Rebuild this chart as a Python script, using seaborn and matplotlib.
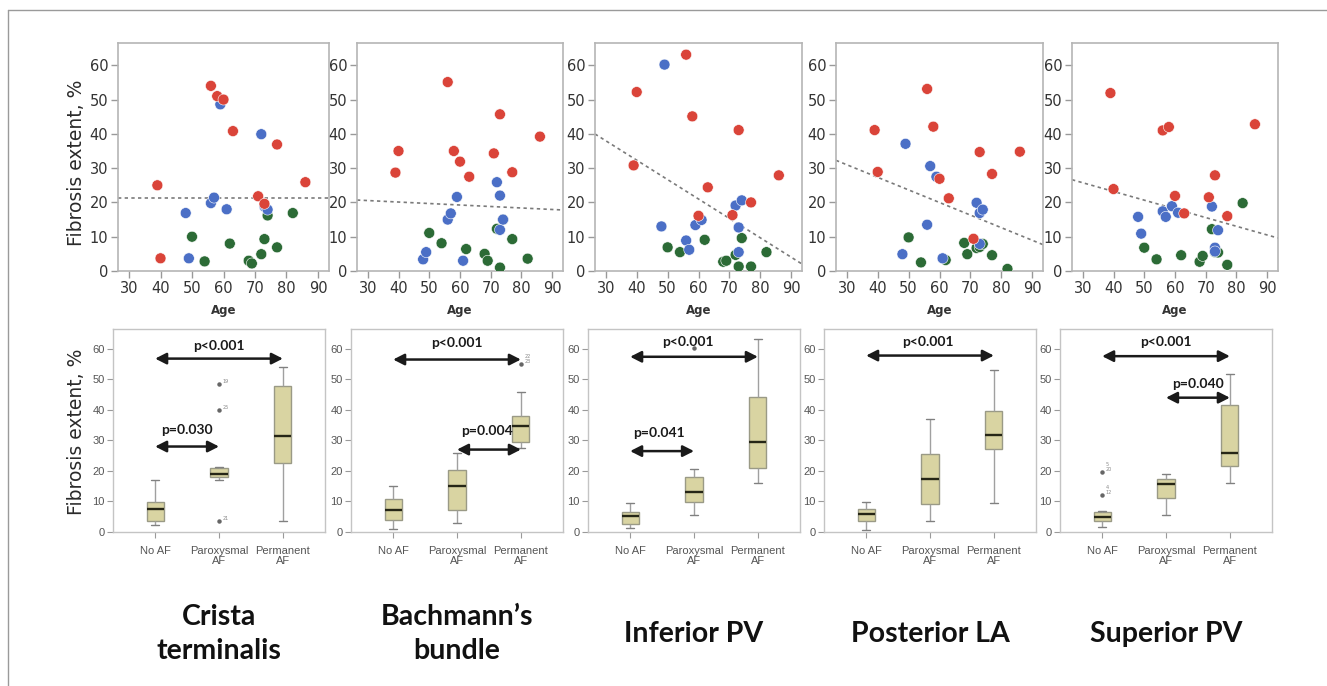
import numpy as np
import pandas as pd
import matplotlib
matplotlib.use("Agg")
import matplotlib.pyplot as plt
import seaborn as sns
from matplotlib.lines import Line2D

# ---------------- data ----------------
regions = ["Crista\nterminalis", "Bachmann\u2019s\nbundle", "Inferior PV", "Posterior LA", "Superior PV"]
groups = ["No AF", "Paroxysmal AF", "Permanent AF"]
group_ticklabels = ["No AF", "Paroxysmal\nAF", "Permanent\nAF"]

age_no_af = [50, 54, 62, 68, 69, 72, 73, 74, 77, 82]
age_parox = [48, 49, 56, 57, 59, 61, 72, 73, 73, 74]
age_perm = [39, 40, 56, 58, 60, 63, 71, 73, 77, 86]

ct_no_af = [10, 2.8, 8, 3, 2.2, 4.9, 9.3, 16.2, 6.9, 16.9]
ct_parox = [16.9, 3.7, 19.8, 21.4, 48.6, 18, 39.9, 18.8, 19.2, 17.9]
ct_perm = [25, 3.7, 54, 51, 50, 40.8, 21.8, 19.6, 36.9, 25.9]

bb_no_af = [11.1, 8.1, 6.4, 5.0, 3.0, 12.3, 1.0, 15, 9.3, 3.6]
bb_parox = [3.4, 5.5, 15, 16.8, 21.6, 3.0, 25.9, 22, 12, 15]
bb_perm = [28.7, 35, 55.1, 35, 31.9, 27.5, 34.3, 45.7, 28.8, 39.2]

ipv_no_af = [6.9, 5.5, 9.1, 2.7, 3.0, 4.7, 1.3, 9.6, 1.3, 5.5]
ipv_parox = [13, 60.2, 8.9, 6.2, 13.4, 14.9, 19.1, 12.7, 5.5, 20.6]
ipv_perm = [30.8, 52.2, 63.1, 45.1, 16.1, 24.4, 16.3, 41.1, 20, 27.9]

pla_no_af = [9.8, 2.5, 3.2, 8.2, 4.9, 6.7, 7.0, 7.9, 4.6, 0.6]
pla_parox = [4.9, 37.1, 13.5, 30.6, 27.5, 3.7, 19.9, 16.9, 7.9, 17.9]
pla_perm = [41.1, 28.9, 53.1, 42.1, 26.9, 21.2, 9.4, 34.7, 28.3, 34.8]

spv_no_af = [6.8, 3.4, 4.6, 2.7, 4.4, 12.2, 5.5, 5.4, 1.8, 19.8]
spv_parox = [15.8, 10.9, 17.4, 15.8, 18.9, 17, 18.8, 6.8, 5.7, 11.9]
spv_perm = [51.9, 23.9, 41, 42, 21.9, 16.8, 21.5, 27.9, 16, 42.8]

no_af_sets = [ct_no_af, bb_no_af, ipv_no_af, pla_no_af, spv_no_af]
parox_sets = [ct_parox, bb_parox, ipv_parox, pla_parox, spv_parox]
perm_sets = [ct_perm, bb_perm, ipv_perm, pla_perm, spv_perm]

# linear fit (all patients)
fit_intercept = [21.2, 21.85, 54.96, 42.0, 33.36]
fit_slope = [0.0, -0.0434, -0.566, -0.367, -0.254]

# comparisons: (from group, to group, arrow level, label level, label)
comparisons = [
    [(0, 2, 56.8, 60.8, "p<0.001"), (0, 1, 28.0, 33.4, "p=0.030")],
    [(0, 2, 56.5, 61.8, "p<0.001"), (1, 2, 27.0, 33.0, "p=0.004")],
    [(0, 2, 57.4, 62.2, "p<0.001"), (0, 1, 26.5, 32.5, "p=0.041")],
    [(0, 2, 57.8, 62.4, "p<0.001")],
    [(0, 2, 57.6, 62.4, "p<0.001"), (1, 2, 44.0, 48.6, "p=0.040")],
]
label_x = [[1.0, 0.5], [1.0, 1.47], [0.9, 0.45], [0.97], [1.0, 1.5]]

# SPSS case numbers next to outliers: (panel, group, value, text)
outlier_notes = [(0, 1, 48.6, "19"), (0, 1, 39.9, "25"), (0, 1, 3.7, "21"),
                 (1, 2, 55.1, "22\n23"), (4, 0, 19.8, "5\n20"), (4, 0, 12.2, "4\n12")]

# ---------------- style ----------------
sns.set_theme(style="white")
plt.rcParams["font.family"] = ["DejaVu Sans"]

palette = {"No AF": "#2c6b36", "Paroxysmal AF": "#4b6fc6", "Permanent AF": "#da4439"}
box_fill = "#d9d4a2"
title_font = ["Lato", "DejaVu Sans"]
narrow_font = ["Liberation Sans Narrow", "Liberation Sans", "DejaVu Sans"]

W, H = 1327, 686
fig = plt.figure(figsize=(W / 100, H / 100), dpi=100)
fig.patch.set_facecolor("white")

top_lefts = [118, 357, 595, 836, 1072]
top_widths = [211, 206, 207, 207, 206]
top_y0, top_y1 = 43, 271
bot_lefts = [113, 351, 588, 824, 1060]
bot_width = 212
bot_y0, bot_y1 = 329, 532


def fig_rect(left, top, width, height):
    return [left / W, 1 - (top + height) / H, width / W, height / H]


for i in range(5):
    # ---------- scatter ----------
    ax = fig.add_axes(fig_rect(top_lefts[i], top_y0, top_widths[i], top_y1 - top_y0))
    df = pd.DataFrame({
        "Age": age_no_af + age_parox + age_perm,
        "Fibrosis": no_af_sets[i] + parox_sets[i] + perm_sets[i],
        "Group": [groups[0]] * len(age_no_af) + [groups[1]] * len(age_parox) + [groups[2]] * len(age_perm),
    })
    sns.scatterplot(data=df, x="Age", y="Fibrosis", hue="Group", palette=palette,
                    s=62, linewidth=0.4, edgecolor="white", legend=False, ax=ax, zorder=3)
    ax.axline((0, fit_intercept[i]), slope=fit_slope[i], color="#7a7a7a", lw=1.2,
              ls=(0, (2.0, 2.0)), zorder=2)
    ax.set_xlim(26.5, 93.5)
    ax.set_ylim(0, 66.5)
    ax.set_xticks(range(30, 91, 10))
    ax.set_yticks(range(0, 61, 10))
    ax.tick_params(axis="both", which="major", length=5, width=1, color="#999999",
                   labelsize=10.5, labelcolor="#333333", pad=2, bottom=True, left=True)
    ax.set_xlabel("Age", fontsize=8.5, fontweight="bold", color="#333333", labelpad=6)
    ax.set_ylabel("")
    for sp in ax.spines.values():
        sp.set_color("#b5b5b5")
        sp.set_linewidth(1.2)

    # ---------- box plot ----------
    bx = fig.add_axes(fig_rect(bot_lefts[i], bot_y0, bot_width, bot_y1 - bot_y0))
    bdf = pd.DataFrame({
        "Group": [groups[0]] * len(no_af_sets[i]) + [groups[1]] * len(parox_sets[i]) + [groups[2]] * len(perm_sets[i]),
        "Fibrosis": no_af_sets[i] + parox_sets[i] + perm_sets[i],
    })
    sns.boxplot(data=bdf, x="Group", y="Fibrosis", order=groups, color=box_fill, saturation=1,
                width=0.27, linecolor="#9a9a86", linewidth=1.0, fliersize=2.2,
                flierprops=dict(marker="o", markerfacecolor="#666666", markeredgecolor="#666666"),
                medianprops=dict(color="#262616", linewidth=1.7),
                whiskerprops=dict(color="#a0a0a0"), capprops=dict(color="#808080"), ax=bx)
    bx.set_xlim(-0.66, 2.66)
    bx.set_ylim(0, 66.5)
    bx.set_yticks(range(0, 61, 10))
    bx.set_xticks([0, 1, 2])
    bx.set_xticklabels(group_ticklabels, fontsize=7.3, color="#333333", family=narrow_font,
                       linespacing=1.0)
    for lab in bx.get_yticklabels():
        lab.set_family(narrow_font)
    bx.tick_params(axis="both", length=4, width=0.8, color="#9a9a9a", labelsize=8,
                   labelcolor="#555555", pad=2, bottom=True, left=True)
    bx.tick_params(axis="x", pad=6)
    bx.set_xlabel("")
    bx.set_ylabel("")
    for sp in bx.spines.values():
        sp.set_color("#c4c4c4")
        sp.set_linewidth(1.0)

    for (g0, g1, y_arrow, y_text, txt), xt in zip(comparisons[i], label_x[i]):
        bx.annotate("", xy=(g1, y_arrow), xytext=(g0, y_arrow),
                    arrowprops=dict(arrowstyle="<|-|>,head_length=0.55,head_width=0.28",
                                    color="#1a1a1a", lw=1.8, shrinkA=0, shrinkB=0))
        bx.text(xt, y_text, txt, ha="center", va="center", fontsize=10, fontweight="bold",
                family=title_font, color="#1a1a1a")

    for (p, g, v, txt) in outlier_notes:
        if p == i:
            bx.text(g + 0.06, v, txt, fontsize=3.5, color="#888888", va="bottom", ha="left",
                    linespacing=0.9)

    # ---------- region title ----------
    cx = (bot_lefts[i] + bot_width / 2) / W
    fig.text(cx, 1 - 634 / H, regions[i], ha="center", va="center", fontsize=20.5,
             fontweight="bold", family=title_font, color="#111111", linespacing=1.4)

# y labels
fig.text(77 / W, 1 - 163 / H, "Fibrosis extent, %", rotation=90, ha="center", va="center",
         fontsize=13.5, color="#2a2a2a")
fig.text(77 / W, 1 - 432 / H, "Fibrosis extent, %", rotation=90, ha="center", va="center",
         fontsize=13.5, color="#2a2a2a")

# outer frame lines (left and top)
fig.add_artist(Line2D([8 / W, 8 / W], [0, 1 - 10 / H], color="#9a9a9a", lw=1.0))
fig.add_artist(Line2D([8 / W, 1], [1 - 10 / H, 1 - 10 / H], color="#9a9a9a", lw=1.0))

fig.savefig("out.png", dpi=100, facecolor="white")
